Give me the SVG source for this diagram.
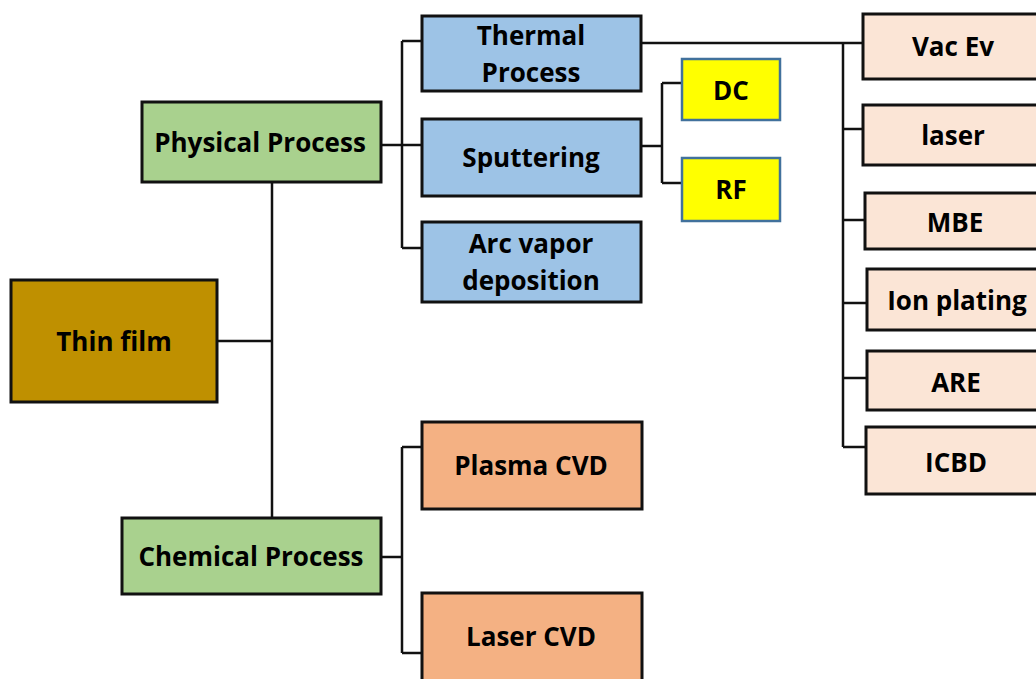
<svg xmlns="http://www.w3.org/2000/svg" width="1036" height="679" viewBox="0 0 1036 679">
<style>
.b{stroke:#111;stroke-width:3}
.y{stroke:#41719C;stroke-width:2.5}
.t{font-family:"Open Sans","Noto Sans","Liberation Sans",sans-serif;font-weight:700;font-size:26px;fill:#000;text-anchor:middle}
.c{fill:none;stroke:#111;stroke-width:2.5}
</style>
<rect width="1036" height="679" fill="#fff"/>
<g id="connectors">
<path class="c" d="M217 341H272M272 182V518"/>
<path class="c" d="M381 145H422M402 41V248M402 41H422M402 248H422"/>
<path class="c" d="M641 146H662M662 83V183M662 83H682M662 183H682"/>
<path class="c" d="M641 43H863M843 43V447M843 129H863M843 220H865M843 303H867M843 378H867M843 447H866"/>
<path class="c" d="M381 557H402M402 447V653M402 447H422M402 653H422"/>
</g>
<g id="thin-film"><rect class="b" x="11" y="280" width="206" height="122" fill="#BF9000"/><text class="t" x="114" y="351">Thin film</text></g>
<g id="physical"><rect class="b" x="142" y="102" width="239" height="80" fill="#A9D18E"/><text class="t" x="260" y="152">Physical Process</text></g>
<g id="chemical"><rect class="b" x="122" y="518" width="259" height="76" fill="#A9D18E"/><text class="t" x="251" y="566">Chemical Process</text></g>
<g id="thermal"><rect class="b" x="422" y="16" width="219" height="75" fill="#9DC3E6"/><text class="t" x="531" y="45">Thermal</text><text class="t" x="531" y="82">Process</text></g>
<g id="sputtering"><rect class="b" x="422" y="119" width="219" height="77" fill="#9DC3E6"/><text class="t" x="531" y="167">Sputtering</text></g>
<g id="arc"><rect class="b" x="422" y="222" width="219" height="80" fill="#9DC3E6"/><text class="t" x="531" y="253">Arc vapor</text><text class="t" x="531" y="290">deposition</text></g>
<g id="dc"><rect class="y" x="682" y="59" width="98" height="61" fill="#FFFF00"/><text class="t" x="731" y="100">DC</text></g>
<g id="rf"><rect class="y" x="682" y="158" width="98" height="63" fill="#FFFF00"/><text class="t" x="731" y="199">RF</text></g>
<g id="plasma-cvd"><rect class="b" x="422" y="422" width="220" height="87" fill="#F4B183"/><text class="t" x="531" y="475">Plasma CVD</text></g>
<g id="laser-cvd"><rect class="b" x="422" y="593" width="220" height="92" fill="#F4B183"/><text class="t" x="531" y="646">Laser CVD</text></g>
<g id="vac-ev"><rect class="b" x="863" y="14" width="190" height="65" fill="#FBE5D6"/><text class="t" x="953" y="56">Vac Ev</text></g>
<g id="laser"><rect class="b" x="863" y="105" width="190" height="60" fill="#FBE5D6"/><text class="t" x="953" y="145">laser</text></g>
<g id="mbe"><rect class="b" x="865" y="193" width="190" height="56" fill="#FBE5D6"/><text class="t" x="955" y="232">MBE</text></g>
<g id="ion-plating"><rect class="b" x="867" y="269" width="190" height="61" fill="#FBE5D6"/><text class="t" x="957" y="310">Ion plating</text></g>
<g id="are"><rect class="b" x="867" y="351" width="190" height="59" fill="#FBE5D6"/><text class="t" x="956" y="392">ARE</text></g>
<g id="icbd"><rect class="b" x="866" y="427" width="190" height="67" fill="#FBE5D6"/><text class="t" x="956" y="472">ICBD</text></g>
</svg>
